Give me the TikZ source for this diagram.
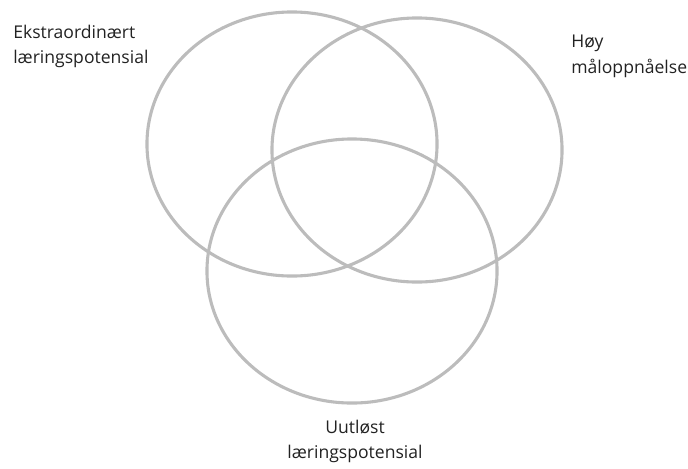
\documentclass[tikz,border=0pt]{standalone}
\usepackage{fontspec}
\setmainfont{Open Sans}
\usetikzlibrary{shapes.geometric}
\definecolor{RingGrey}{HTML}{BCBCBC}
\definecolor{LabelInk}{HTML}{222222}

\begin{document}
\begin{tikzpicture}[x=0.025cm,y=-0.025cm,
    ring/.style={draw=RingGrey,line width=2.2pt,ellipse,inner sep=0pt,outer sep=0pt,
      minimum width=7.25cm,minimum height=6.6cm},
    tag/.style={text=LabelInk,inner sep=0pt,font=\fontsize{12.5}{18}\selectfont}]
  \useasboundingbox (0,0) rectangle (688,468);
  \node[ring] (ekstra) at (292,144) {};
  \node[ring] (hoy) at (417,150) {};
  \node[ring] (uutlost) at (352,271) {};
  \node[tag,align=left,anchor=north west] (ekstratxt) at (13,25) {Ekstraordinært\\læringspotensial};
  \node[tag,align=left,anchor=north west] (hoytxt) at (571,35) {Høy\\måloppnåelse};
  \node[tag,align=center,anchor=north] (uutlosttxt) at (355,420) {Uutløst\\læringspotensial};
\end{tikzpicture}
\end{document}
